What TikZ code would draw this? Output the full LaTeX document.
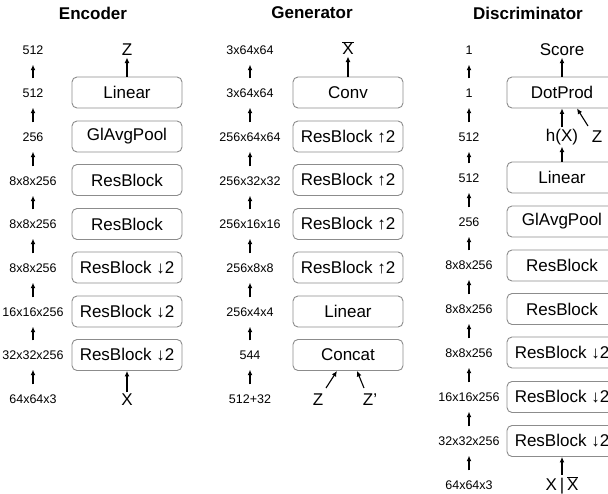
\documentclass[tikz,border=0pt]{standalone}
\usepackage{fontspec}
\setmainfont{Liberation Sans}
\usetikzlibrary{arrows.meta,calc}
\begin{document}
\begin{tikzpicture}[x=1pt,y=-1pt,
  blk/.style={draw=black!45,line width=0.9pt,rounded corners=5pt,minimum width=110pt,minimum height=31pt,inner sep=0pt,font=\fontsize{17}{19}\selectfont},
  dimlbl/.style={minimum height=29pt,inner sep=0pt,font=\fontsize{12.5}{14}\selectfont},
  sym/.style={inner sep=1.5pt,font=\fontsize{17}{19}\selectfont},
  ttl/.style={font=\fontsize{17}{19}\selectfont\bfseries},
  arr/.style={line width=1.1pt,-{Latex[length=5.5pt,width=5pt]}}]
\clip (0,0) rectangle (608,493);
\fill[white] (0,0) rectangle (608,493);
% ---------------- Encoder
\node[ttl] (te) at (93,13) {Encoder};
\foreach \t/\y [count=\i] in {512/50,512/93,256/137,8x8x256/181,8x8x256/224,8x8x256/268,16x16x256/312,32x32x256/355,64x64x3/399}
  \node[dimlbl] (el\i) at (33,\y) {\t};
\foreach \i [evaluate=\i as \j using int(\i+1)] in {1,...,8}
  \draw[arr] (el\j) -- (el\i);
\node[sym] (ez) at (127,50) {Z};
\node[blk] (e1) at (127,92.5) {Linear};
\node[blk] (e2) at (127,136.5) {GlAvgPool};
\node[blk] (e3) at (127,180) {ResBlock};
\node[blk] (e4) at (127,224) {ResBlock};
\node[blk] (e5) at (127,267.5) {ResBlock ↓2};
\node[blk] (e6) at (127,311.5) {ResBlock ↓2};
\node[blk] (e7) at (127,355) {ResBlock ↓2};
\node[sym] (ex) at (127,400) {X};
\draw[arr] (e1) -- (ez);
\draw[arr] (ex) -- (e7);
% ---------------- Generator
\node[ttl] (tg) at (312,13) {Generator};
\foreach \t/\y [count=\i] in {3x64x64/50,3x64x64/93,256x64x64/137,256x32x32/181,256x16x16/224,256x8x8/268,256x4x4/312,544/355,512+32/399}
  \node[dimlbl] (gl\i) at (250,\y) {\t};
\foreach \i [evaluate=\i as \j using int(\i+1)] in {1,...,8}
  \draw[arr] (gl\j) -- (gl\i);
\node[sym] (gx) at (348,48) {$\overline{\hbox{X}}$};
\node[blk] (g1) at (348,92.5) {Conv};
\node[blk] (g2) at (348,136.5) {ResBlock ↑2};
\node[blk] (g3) at (348,180) {ResBlock ↑2};
\node[blk] (g4) at (348,224) {ResBlock ↑2};
\node[blk] (g5) at (348,267.5) {ResBlock ↑2};
\node[blk] (g6) at (348,311.5) {Linear};
\node[blk] (g7) at (348,355) {Concat};
\node[sym] (gz) at (318,400) {Z};
\node[sym] (gzp) at (370,400) {Z’};
\draw[arr] (g1) -- (gx);
\draw[arr] ($(gz)+(8,-12)$) -- ($(g7.south)+(-11,0)$);
\draw[arr] ($(gzp)+(-6,-12)$) -- ($(g7.south)+(9,0)$);
% ---------------- Discriminator
\node[ttl] (td) at (528,13) {Discriminator};
\foreach \t/\y [count=\i] in {1/50,1/93,512/137,512/178,256/222,8x8x256/265,8x8x256/309,8x8x256/353,16x16x256/397,32x32x256/441,64x64x3/485}
  \node[dimlbl] (dl\i) at (469,\y) {\t};
\foreach \i [evaluate=\i as \j using int(\i+1)] in {1,...,10}
  \draw[arr] (dl\j) -- (dl\i);
\node[sym] (ds) at (562,50) {Score};
\node[blk] (d1) at (562,92.5) {DotProd};
\node[sym] (dh) at (562,137) {h(X)};
\node[sym] (dz) at (597,137) {Z};
\node[blk] (d2) at (562,177.5) {Linear};
\node[blk] (d3) at (562,221.5) {GlAvgPool};
\node[blk] (d4) at (562,265.5) {ResBlock};
\node[blk] (d5) at (562,309) {ResBlock};
\node[blk] (d6) at (562,352.5) {ResBlock ↓2};
\node[blk] (d7) at (562,397) {ResBlock ↓2};
\node[blk] (d8) at (562,441) {ResBlock ↓2};
\node[sym] (dx) at (562,485) {X\,|\,$\overline{\hbox{X}}$};
\draw[arr] (d1) -- (ds);
\draw[arr] (dh) -- (d1);
\draw[arr] ($(dz)+(-9,-11)$) -- ($(d1.south)+(15,0)$);
\draw[arr] (d2) -- (dh);
\draw[arr] (dx) -- (d8);
\end{tikzpicture}
\end{document}
